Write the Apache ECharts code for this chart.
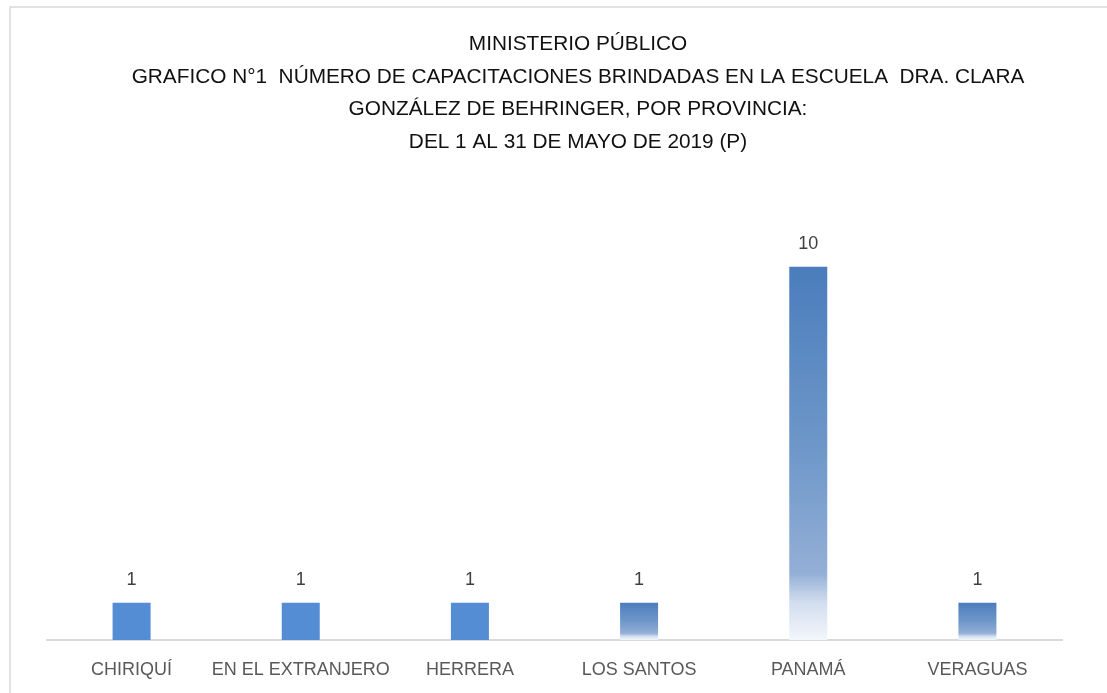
<!DOCTYPE html>
<html>
<head>
<meta charset="utf-8">
<script src="https://cdn.jsdelivr.net/npm/echarts@6/dist/echarts.min.js"></script>
<style>
  html, body { margin: 0; padding: 0; background: #fff; }
  #chart { width: 1107px; height: 693px; }
</style>
</head>
<body>
<div id="chart"></div>
<script>
// datos del gráfico
const provincias = ["CHIRIQUÍ", "EN EL EXTRANJERO", "HERRERA", "LOS SANTOS", "PANAMÁ", "VERAGUAS"];
const capacitaciones = [1, 1, 1, 1, 10, 1];
const rellenoDegradado = [false, false, false, true, true, true];
const tituloLineas = [
    "MINISTERIO PÚBLICO",
    "GRAFICO N°1  NÚMERO DE CAPACITACIONES BRINDADAS EN LA ESCUELA  DRA. CLARA",
    "GONZÁLEZ DE BEHRINGER, POR PROVINCIA:",
    "DEL 1 AL 31 DE MAYO DE 2019 (P)",
];

const fuente = '"Liberation Sans", sans-serif';

const degradado = {
    type: "linear", x: 0, y: 0, x2: 0, y2: 1,
    colorStops: [
        { offset: 0, color: "#4b7dbc" },
        { offset: 0.5, color: "#6f98c9" },
        { offset: 0.82, color: "#93afd6" },
        { offset: 0.9, color: "#d2ddee" },
        { offset: 1, color: "#f4f7fb" },
    ],
};

const datos = capacitaciones.map((v, i) => ({
    value: v,
    itemStyle: { color: rellenoDegradado[i] ? degradado : "#548dd4" },
}));

const myChart = echarts.init(document.getElementById("chart"));

const option = {
    animation: false,
    backgroundColor: "#fff",
    title: {
        text: tituloLineas.join("\n"),
        left: 573,
        top: 23,
        textAlign: "center",
        textStyle: {
            fontFamily: fuente,
            fontSize: 20.8,
            fontWeight: "normal",
            color: "#111",
            lineHeight: 32.6,
        },
    },
    graphic: [
        {
            type: "rect",
            shape: { x: 10, y: 7, width: 1200, height: 800 },
            style: { fill: "none", stroke: "#d9d9d9", lineWidth: 1.5 },
            silent: true,
        },
    ],
    grid: { left: 47, right: 45, top: 192, bottom: 53 },
    xAxis: {
        type: "category",
        data: provincias,
        axisLine: { lineStyle: { color: "#d9d9d9", width: 2 } },
        axisTick: { show: false },
        axisLabel: {
            color: "#595959",
            fontFamily: fuente,
            fontSize: 18,
            margin: 21,
            interval: 0,
        },
    },
    yAxis: {
        type: "value",
        min: 0,
        max: 12,
        show: false,
        splitLine: { show: false },
    },
    series: [
        {
            type: "bar",
            data: datos,
            barWidth: 38,
            label: {
                show: true,
                position: "top",
                distance: 14,
                color: "#404040",
                fontFamily: fuente,
                fontSize: 18,
            },
        },
    ],
};

myChart.setOption(option);
</script>
</body>
</html>
